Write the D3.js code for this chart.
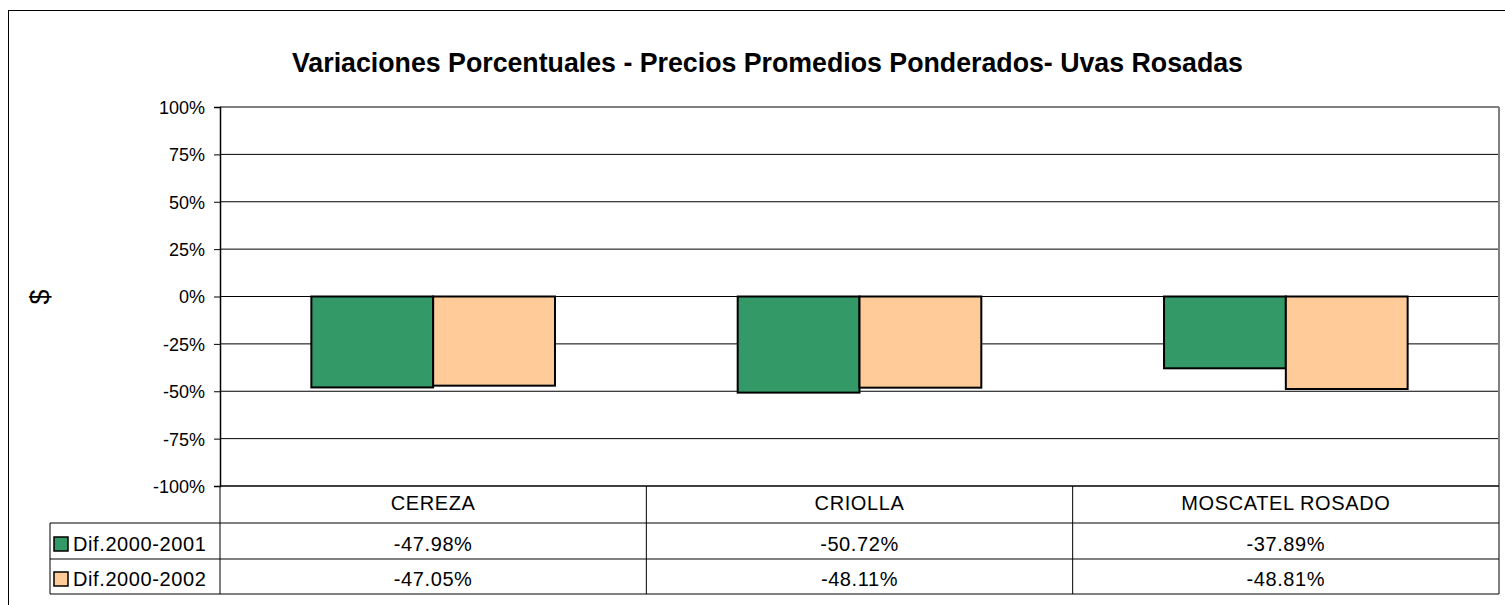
<!DOCTYPE html>
<html>
<head>
<meta charset="utf-8">
<script src="https://cdn.jsdelivr.net/npm/d3@7"></script>
<style>
  body { margin: 0; background: #fff; }
  svg { display: block; font-family: "Liberation Sans", Arial, sans-serif; }
</style>
</head>
<body>
<div id="chart"></div>
<script>
// Data
const categories = ["CEREZA", "CRIOLLA", "MOSCATEL ROSADO"];
const seriesNames = ["Dif.2000-2001", "Dif.2000-2002"];
const dif2001 = [-47.98, -50.72, -37.89];
const dif2002 = [-47.05, -48.11, -48.81];
const yTicks = [100, 75, 50, 25, 0, -25, -50, -75, -100];
const colors = ["#339966", "#FFCC99"];

const width = 1505, height = 605;
const plot = { left: 220, right: 1499, top: 107, bottom: 486 };
const rowH = [37, 36, 35];
const legendLeft = 50;

const svg = d3.select("#chart").append("svg")
    .attr("width", width)
    .attr("height", height);

// Outer chart frame (runs off the right and bottom edges)
svg.append("rect")
    .attr("x", 8.5).attr("y", 10.5)
    .attr("width", 1510).attr("height", 620)
    .attr("fill", "none")
    .attr("stroke", "#000")
    .attr("stroke-width", 1);

// Title
svg.append("text")
    .attr("x", 767.5).attr("y", 72)
    .attr("text-anchor", "middle")
    .attr("font-size", "28px")
    .attr("font-weight", "bold")
    .attr("textLength", 951)
    .attr("lengthAdjust", "spacingAndGlyphs")
    .text("Variaciones Porcentuales - Precios Promedios Ponderados- Uvas Rosadas");

// Scales
const x = d3.scaleBand()
    .domain(categories)
    .range([plot.left, plot.right])
    .paddingInner(0)
    .paddingOuter(0);

// gap width 150% -> bars occupy 2/(2+1.5) of the band
const barsW = x.bandwidth() * 2 / 3.5;
const xs = d3.scaleBand()
    .domain(seriesNames)
    .range([(x.bandwidth() - barsW) / 2, (x.bandwidth() + barsW) / 2]);

const y = d3.scaleLinear()
    .domain([-100, 100])
    .range([plot.bottom, plot.top]);

// Gridlines
svg.append("g")
    .selectAll("line")
    .data(yTicks)
    .join("line")
    .attr("x1", plot.left).attr("x2", plot.right)
    .attr("y1", d => y(d)).attr("y2", d => y(d))
    .attr("stroke", "#000")
    .attr("stroke-width", 1);

// Plot area right edge
svg.append("line")
    .attr("x1", plot.right).attr("x2", plot.right)
    .attr("y1", plot.top).attr("y2", plot.bottom)
    .attr("stroke", "#808080")
    .attr("stroke-width", 2);

// Y axis
const yAxis = d3.axisLeft(y)
    .tickValues(yTicks)
    .tickSize(6)
    .tickPadding(9)
    .tickFormat(d => d + "%");

const yg = svg.append("g")
    .attr("transform", `translate(${plot.left},0)`)
    .call(yAxis);
yg.select(".domain").attr("stroke", "#000").attr("stroke-width", 1.5);
yg.selectAll(".tick line").attr("stroke", "#000");
yg.selectAll(".tick text")
    .attr("font-size", "18px")
    .attr("fill", "#000")
    .attr("dy", "0.36em")
    .attr("font-family", "Liberation Sans, Arial, sans-serif");

// Y axis title
svg.append("text")
    .attr("transform", "translate(49,297) rotate(-90)")
    .attr("text-anchor", "middle")
    .attr("font-size", "27px")
    .text("$");

// Bars
const series = [dif2001, dif2002];
const barData = [];
categories.forEach((c, i) => {
    series.forEach((s, j) => {
        barData.push({ cat: c, name: seriesNames[j], value: s[i], color: colors[j] });
    });
});

svg.append("g")
    .selectAll("rect")
    .data(barData)
    .join("rect")
    .attr("x", d => x(d.cat) + xs(d.name))
    .attr("y", d => y(Math.max(0, d.value)))
    .attr("width", xs.bandwidth())
    .attr("height", d => Math.abs(y(d.value) - y(0)))
    .attr("fill", d => d.color)
    .attr("stroke", "#000")
    .attr("stroke-width", 2);

// Data table
const tbl = svg.append("g").attr("fill", "none").attr("stroke", "#000").attr("stroke-width", 1);
const r1 = plot.bottom, r2 = r1 + rowH[0], r3 = r2 + rowH[1], r4 = r3 + rowH[2];

// horizontal lines
tbl.append("line").attr("x1", plot.left).attr("x2", plot.right).attr("y1", r1).attr("y2", r1);
[r2, r3, r4].forEach(ry => {
    tbl.append("line").attr("x1", legendLeft).attr("x2", plot.right).attr("y1", ry).attr("y2", ry);
});
// vertical lines
tbl.append("line").attr("x1", legendLeft).attr("x2", legendLeft).attr("y1", r2).attr("y2", r4);
tbl.append("line").attr("x1", plot.left).attr("x2", plot.left).attr("y1", plot.bottom).attr("y2", r4);
categories.forEach(c => {
    const xe = x(c) + x.bandwidth();
    tbl.append("line").attr("x1", xe).attr("x2", xe).attr("y1", r1).attr("y2", r4);
});

const tf = "20px";
const ls = "0.6px";
// category labels
svg.append("g")
    .selectAll("text")
    .data(categories)
    .join("text")
    .attr("x", d => x(d) + x.bandwidth() / 2)
    .attr("y", r1 + 24)
    .attr("text-anchor", "middle")
    .attr("font-size", tf)
    .attr("letter-spacing", ls)
    .text(d => d);

// values rows
const rowsY = [r2 + 28, r3 + 27];
series.forEach((s, j) => {
    svg.append("g")
        .selectAll("text")
        .data(s)
        .join("text")
        .attr("x", (d, i) => x(categories[i]) + x.bandwidth() / 2)
        .attr("y", rowsY[j])
        .attr("text-anchor", "middle")
        .attr("font-size", tf)
        .attr("letter-spacing", ls)
        .text(d => d.toFixed(2) + "%");

    // legend key + name
    svg.append("rect")
        .attr("x", 54).attr("y", rowsY[j] - 14)
        .attr("width", 14).attr("height", 14)
        .attr("fill", colors[j])
        .attr("stroke", "#000")
        .attr("stroke-width", 1.5);
    svg.append("text")
        .attr("x", 73).attr("y", rowsY[j])
        .attr("font-size", tf)
        .attr("letter-spacing", ls)
        .text(seriesNames[j]);
});
</script>
</body>
</html>
